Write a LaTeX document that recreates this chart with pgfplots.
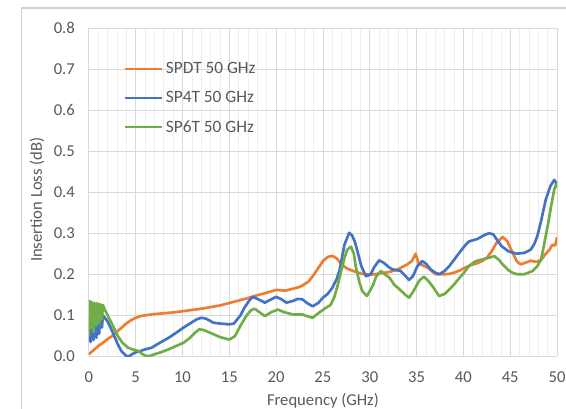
\documentclass[border=0pt]{standalone}
\usepackage{pgfplots}
\pgfplotsset{compat=1.18}
\usepackage{fontspec}
\setmainfont{Carlito}
\definecolor{xlorange}{HTML}{ED7D31}
\definecolor{xlblue}{HTML}{4472C4}
\definecolor{xlgreen}{HTML}{70AD47}
\definecolor{txtgray}{HTML}{595959}
\definecolor{gridmaj}{HTML}{D9D9D9}
\definecolor{gridmin}{HTML}{EFEFEF}
\begin{document}
\begin{tikzpicture}
\useasboundingbox (-66.75pt,-39pt) rectangle (358.5pt,267.75pt);
\draw[gray!35, line width=0.8pt] (-50.25pt,-60pt) -- (-50.25pt,261.75pt) -- (380pt,261.75pt);
\begin{axis}[
  at={(0pt,0pt)}, anchor=origin,
  scale only axis, width=351.75pt, height=246.75pt,
  xmin=0, xmax=50, ymin=0, ymax=0.8,
  xtick={0,5,...,50}, ytick={0,0.1,...,0.8},
  minor x tick num=4,
  grid=both,
  major grid style={gridmaj, line width=0.6pt},
  minor grid style={gridmin, line width=0.5pt},
  axis line style={draw=none},
  tick style={draw=none},
  every tick label/.append style={font=\fontsize{12.5}{14}\selectfont, text=txtgray},
  /pgf/number format/assume math mode=true,
  yticklabel style={xshift=-7pt, /pgf/number format/.cd, fixed, fixed zerofill, precision=1},
  xticklabel style={yshift=-8pt},
  xlabel={Frequency (GHz)},
  ylabel={Insertion Loss (dB)},
  xlabel style={at={(axis description cs:0.5,-0.1337)}, anchor=center},
  ylabel style={at={(axis description cs:-0.111,0.477)}, anchor=center},
  label style={font=\fontsize{12.5}{14}\selectfont, text=txtgray},
  legend style={draw=none, fill=none, at={(0.066,0.913)}, anchor=north west,
    font=\fontsize{13}{15}\selectfont, text=txtgray, row sep=8pt},
  legend cell align=left,
  legend image code/.code={\draw[#1, line width=1.5pt] (0pt,0pt) -- (28pt,0pt);},
  every axis plot/.append style={line width=2pt, line join=round},
]
\addplot[xlorange] coordinates {
(0,0.005) (0.5,0.015) (1,0.025) (1.5,0.033) (2,0.042) (2.5,0.05) (3,0.06) (3.5,0.07) (4,0.08) (4.5,0.088) (5,0.094) (5.5,0.098) (6,0.1) (7,0.103) (8,0.105) (9,0.107) (10,0.11) (11,0.113) (12,0.116) (13,0.12) (14,0.124) (15,0.13) (16,0.136) (17,0.142) (18,0.149) (19,0.155) (20,0.162) (21,0.16) (21.5,0.163) (22.5,0.169) (23,0.175) (23.5,0.183) (24,0.198) (24.5,0.215) (25,0.232) (25.5,0.242) (26,0.245) (26.5,0.238) (27,0.224) (27.5,0.215) (28,0.21) (28.5,0.206) (29,0.202) (29.5,0.2) (30,0.199) (30.5,0.2) (31,0.202) (32,0.205) (33,0.212) (33.5,0.218) (34,0.224) (34.5,0.232) (34.9,0.25) (35.2,0.228) (35.6,0.222) (36.2,0.216) (36.7,0.206) (37.1,0.2) (38,0.2) (38.5,0.201) (39,0.204) (39.5,0.208) (40,0.214) (40.6,0.221) (41.5,0.227) (42,0.232) (42.5,0.24) (43,0.255) (43.5,0.275) (44.2,0.291) (44.7,0.28) (45.2,0.255) (45.7,0.232) (46.1,0.224) (46.6,0.228) (47.2,0.233) (47.8,0.23) (48.3,0.235) (48.8,0.25) (49.2,0.26) (49.5,0.272) (49.8,0.27) (50,0.29)
};
\addlegendentry{SPDT 50 GHz}
\addplot[xlblue] coordinates {
(0,0.035) (0.1,0.095) (0.2,0.035) (0.35,0.1) (0.5,0.04) (0.6,0.1) (0.8,0.045) (0.9,0.098) (1.1,0.055) (1.2,0.097) (1.4,0.07) (1.5,0.1) (1.7,0.094) (2.0,0.085) (2.4,0.066) (2.8,0.045) (3.1,0.029) (3.5,0.012) (4.0,0.001) (4.3,0.0) (4.6,0.005) (4.9,0.009) (5.5,0.013) (6,0.017) (6.7,0.021) (7.5,0.032) (8.5,0.045) (9.3,0.057) (10.1,0.07) (10.8,0.08) (11.5,0.09) (12.0,0.094) (12.5,0.092) (13.3,0.082) (14,0.08) (15,0.078) (15.5,0.08) (15.7,0.086) (16.2,0.1) (16.6,0.118) (17.1,0.135) (17.5,0.145) (18,0.14) (18.8,0.131) (19.4,0.138) (20,0.145) (20.5,0.14) (21.1,0.131) (21.8,0.135) (22.3,0.14) (22.8,0.139) (23.3,0.13) (23.9,0.122) (24.5,0.13) (25,0.143) (25.5,0.152) (26,0.167) (26.5,0.19) (26.8,0.212) (27.3,0.272) (27.8,0.301) (28.1,0.295) (28.4,0.28) (28.7,0.255) (29.1,0.22) (29.6,0.195) (30.1,0.2) (30.5,0.218) (31,0.234) (31.5,0.228) (32,0.218) (32.4,0.212) (33.3,0.208) (33.8,0.196) (34.2,0.186) (34.6,0.195) (35.1,0.22) (35.6,0.232) (36,0.226) (36.5,0.212) (37,0.204) (37.4,0.2) (38,0.208) (38.5,0.22) (39,0.235) (39.55,0.252) (40.1,0.268) (40.6,0.28) (41.5,0.286) (42.2,0.295) (42.75,0.30) (43.2,0.297) (43.7,0.28) (44.1,0.268) (44.8,0.256) (45.7,0.25) (46.5,0.252) (47.2,0.26) (47.6,0.275) (47.9,0.293) (48.3,0.33) (48.8,0.382) (49.3,0.415) (49.7,0.43) (50,0.418)
};
\addlegendentry{SP4T 50 GHz}
\addplot[xlgreen] coordinates {
(0,0.05) (0.1,0.135) (0.25,0.07) (0.35,0.132) (0.5,0.06) (0.6,0.13) (0.8,0.075) (0.9,0.13) (1.1,0.08) (1.2,0.128) (1.4,0.09) (1.5,0.125) (1.7,0.114) (1.9,0.105) (2.4,0.082) (3.1,0.049) (3.6,0.033) (4.2,0.021) (4.8,0.016) (5.3,0.013) (5.7,0.006) (6.1,0.001) (6.5,0.001) (7.0,0.005) (7.7,0.01) (8.5,0.017) (9.3,0.025) (10.1,0.033) (10.8,0.045) (11.3,0.057) (11.8,0.066) (12.3,0.064) (13.3,0.054) (14,0.047) (15,0.041) (15.6,0.049) (16.2,0.075) (16.8,0.098) (17.3,0.112) (17.7,0.116) (18.2,0.108) (18.8,0.098) (19.5,0.108) (20.2,0.114) (20.8,0.108) (21.8,0.102) (22.8,0.102) (23.3,0.098) (23.9,0.094) (24.5,0.105) (25.3,0.118) (25.8,0.125) (26.2,0.143) (26.6,0.175) (26.9,0.204) (27.3,0.24) (27.6,0.26) (28.0,0.267) (28.3,0.25) (28.5,0.22) (28.9,0.18) (29.2,0.159) (29.7,0.147) (30.3,0.171) (30.7,0.195) (31.2,0.208) (31.6,0.2) (32.1,0.192) (32.6,0.175) (33.2,0.163) (33.8,0.15) (34.2,0.143) (34.7,0.16) (35.3,0.185) (35.8,0.194) (36.2,0.185) (36.7,0.171) (37.4,0.147) (38,0.152) (38.5,0.163) (39,0.175) (39.55,0.19) (40.1,0.205) (40.6,0.22) (41.3,0.232) (42,0.236) (42.7,0.24) (43.3,0.244) (43.8,0.235) (44.2,0.224) (44.8,0.21) (45.3,0.203) (45.8,0.2) (46.5,0.2) (47.4,0.208) (47.9,0.22) (48.3,0.236) (48.6,0.27) (49,0.317) (49.4,0.37) (49.7,0.406) (49.9,0.42) (50,0.41)
};
\addlegendentry{SP6T 50 GHz}
\end{axis}
\end{tikzpicture}
\end{document}
